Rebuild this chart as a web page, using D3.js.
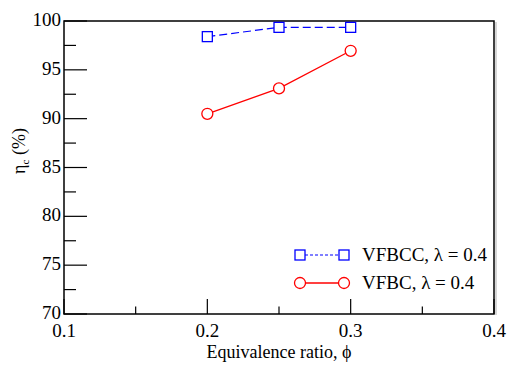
<!DOCTYPE html>
<html>
<head>
<meta charset="utf-8">
<script src="https://cdn.jsdelivr.net/npm/d3@7"></script>
<style>
  body { margin: 0; background: #fff; }
  svg text { fill: #000; }
</style>
</head>
<body>
<div id="chart"></div>
<script>
// data
const phi = [0.2, 0.25, 0.3]
const vfbcc = [98.4, 99.35, 99.35]
const vfbc = [90.5, 93.1, 96.95]
const xTicks = [0.1, 0.2, 0.3, 0.4]
const xMinor = [0.15, 0.25, 0.35]
const yTicks = [70, 75, 80, 85, 90, 95, 100]
const yMinor = [72.5, 77.5, 82.5, 87.5, 92.5, 97.5]
const legendLabels = ['VFBCC, \u03bb = 0.4', 'VFBC, \u03bb = 0.4']

const W = 510, H = 365
const m = { l: 64, r: 16, t: 21, b: 51 } // plot box
const serif = '"Times New Roman", Times, "Liberation Serif", "DejaVu Serif", "Nimbus Roman", FreeSerif, serif'

const svg = d3.select('#chart').append('svg')
    .attr('width', W)
    .attr('height', H)
    .style('font-family', serif)

const x = d3.scaleLinear().domain([0.1, 0.4]).range([m.l, W - m.r])
const y = d3.scaleLinear().domain([70, 100]).range([H - m.b, m.t])

const g = svg.append('g')

// inward ticks on bottom and left
g.selectAll('.xmaj').data(xTicks).enter().append('line')
    .attr('x1', d => x(d)).attr('x2', d => x(d))
    .attr('y1', y(70)).attr('y2', y(70) - 15)
    .attr('stroke', '#000').attr('stroke-width', 1.2)
g.selectAll('.xmin').data(xMinor).enter().append('line')
    .attr('x1', d => x(d)).attr('x2', d => x(d))
    .attr('y1', y(70)).attr('y2', y(70) - 7.5)
    .attr('stroke', '#000').attr('stroke-width', 1.2)
g.selectAll('.ymaj').data(yTicks).enter().append('line')
    .attr('x1', x(0.1)).attr('x2', x(0.1) + 23)
    .attr('y1', d => y(d)).attr('y2', d => y(d))
    .attr('stroke', '#000').attr('stroke-width', 1.2)
g.selectAll('.ymin').data(yMinor).enter().append('line')
    .attr('x1', x(0.1)).attr('x2', x(0.1) + 12)
    .attr('y1', d => y(d)).attr('y2', d => y(d))
    .attr('stroke', '#000').attr('stroke-width', 1.2)

// tick labels
g.selectAll('.xl').data(xTicks).enter().append('text')
    .attr('x', d => x(d)).attr('y', y(70) + 23)
    .attr('text-anchor', 'middle')
    .style('font-family', serif)
    .style('font-size', '19px')
    .text(d => d3.format('.1f')(d))
g.selectAll('.yl').data(yTicks).enter().append('text')
    .attr('x', x(0.1) - 3).attr('y', d => y(d) + 5)
    .attr('text-anchor', 'end')
    .style('font-family', serif)
    .style('font-size', '19px')
    .text(d => d)

// shadow + frame
g.append('line')
    .attr('x1', W - m.r + 2).attr('x2', W - m.r + 2)
    .attr('y1', m.t + 1).attr('y2', H - m.b + 1)
    .attr('stroke', '#bbb').attr('stroke-width', 1.2)
g.append('rect')
    .attr('x', m.l).attr('y', m.t)
    .attr('width', W - m.l - m.r).attr('height', H - m.t - m.b)
    .attr('fill', 'none').attr('stroke', '#000').attr('stroke-width', 1.5)

// axis titles
g.append('text')
    .attr('x', (m.l + W - m.r) / 2).attr('y', H - 7)
    .attr('text-anchor', 'middle')
    .style('font-family', serif)
    .style('font-size', '18px')
    .text('Equivalence ratio, \u03d5')

const yt = g.append('text')
    .attr('transform', `translate(25,151) rotate(-90)`)
    .attr('text-anchor', 'middle')
    .style('font-family', serif)
    .style('font-size', '18px')
yt.append('tspan').text('\u03b7')
yt.append('tspan').attr('dy', 4).style('font-size', '11px').text('c')
yt.append('tspan').attr('dy', -4).text('  (%)')

// series
const line = d3.line().x((d, i) => x(phi[i])).y(d => y(d))

g.append('path').datum(vfbcc)
    .attr('d', line)
    .attr('fill', 'none').attr('stroke', '#0000ff').attr('stroke-width', 1.2)
    .attr('stroke-dasharray', '8,4')
g.append('path').datum(vfbc)
    .attr('d', line)
    .attr('fill', 'none').attr('stroke', '#ff0000').attr('stroke-width', 1.3)

const sq = 10
g.selectAll('.sq').data(vfbcc).enter().append('rect')
    .attr('x', (d, i) => x(phi[i]) - sq / 2).attr('y', d => y(d) - sq / 2)
    .attr('width', sq).attr('height', sq)
    .attr('fill', '#fff').attr('stroke', '#0000ff').attr('stroke-width', 1.3)
g.selectAll('.ci').data(vfbc).enter().append('circle')
    .attr('cx', (d, i) => x(phi[i])).attr('cy', d => y(d))
    .attr('r', 5.5)
    .attr('fill', '#fff').attr('stroke', '#ff0000').attr('stroke-width', 1.3)

// legend
const lg = g.append('g')
const lx1 = 300, lx2 = 344, ly = [255, 283]
lg.append('line').attr('x1', lx1).attr('x2', lx2).attr('y1', ly[0]).attr('y2', ly[0])
    .attr('stroke', '#0000ff').attr('stroke-width', 1.2).attr('stroke-dasharray', '3,2')
lg.append('line').attr('x1', lx1).attr('x2', lx2).attr('y1', ly[1]).attr('y2', ly[1])
    .attr('stroke', '#ff0000').attr('stroke-width', 1.3)
;[lx1, lx2].forEach(px => {
    lg.append('rect').attr('x', px - sq / 2).attr('y', ly[0] - sq / 2)
        .attr('width', sq).attr('height', sq)
        .attr('fill', '#fff').attr('stroke', '#0000ff').attr('stroke-width', 1.3)
    lg.append('circle').attr('cx', px).attr('cy', ly[1]).attr('r', 5.5)
        .attr('fill', '#fff').attr('stroke', '#ff0000').attr('stroke-width', 1.3)
})
lg.selectAll('.lt').data(legendLabels).enter().append('text')
    .attr('x', 362).attr('y', (d, i) => ly[i] + 6)
    .style('font-family', serif)
    .style('font-size', '19px')
    .text(d => d)
</script>
</body>
</html>
